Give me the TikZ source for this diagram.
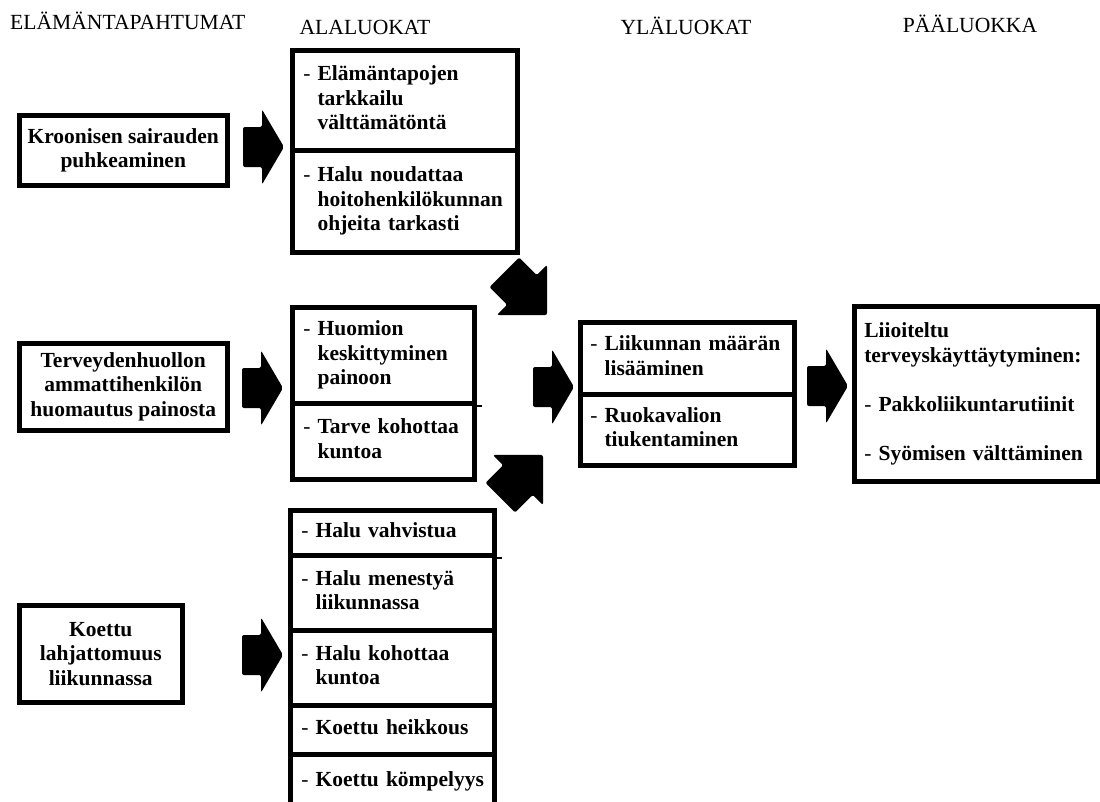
\documentclass[tikz,border=0pt]{standalone}
\usepackage{fontspec}
\setmainfont{Liberation Serif}
\usetikzlibrary{calc}
\newcommand{\lcfont}{\fontsize{21.5}{24.5}\selectfont}
\newcommand{\lcitem}[1]{\mbox{{\mdseries -}~\begin{tabular}[t]{@{}l@{}}#1\end{tabular}}}
\tikzset{
  lc head/.style={font=\fontsize{21.6}{25}\selectfont, inner sep=0pt},
  lc box/.style={draw=black, line width=4.5pt, anchor=north west, inner sep=0pt,
    align=center, font=\lcfont\bfseries},
  lc cell/.style={lc box, align=left, inner xsep=11pt},
  lc stub/.style={line width=2pt},
  pics/lc arrow/.style={code={
    \fill[black, rounded corners=2pt] (0,-20) -- (19,-20) -- (19,-37.5) -- (41,0)
      -- (19,37.5) -- (19,20) -- (0,20) -- cycle;}},
  pics/lc diag/.style={code={
    \fill[black, rounded corners=2pt] (0,-21) -- (25,-21) -- (25,-35.4) -- (60.4,0)
      -- (25,35.4) -- (25,21) -- (0,21) -- cycle;}}
}

\begin{document}
\begin{tikzpicture}[x=1pt, y=-1pt]
  \useasboundingbox (0,0) rectangle (1100,801);

  % column headings
  \node[lc head, anchor=base west] (hElam) at (10,29) {ELÄMÄNTAPAHTUMAT};
  \node[lc head, anchor=base] (hAla) at (365,34) {ALALUOKAT};
  \node[lc head, anchor=base] (hYla) at (686,34) {YLÄLUOKAT};
  \node[lc head, anchor=base] (hPaa) at (970,32) {PÄÄLUOKKA};

  % life events
  \node[lc box, minimum width=208pt, minimum height=70pt] (kroon) at (17,113)
    {Kroonisen sairauden\\puhkeaminen};
  \node[lc box, minimum width=208pt, minimum height=87pt] (terv) at (17,341)
    {Terveydenhuollon\\ammattihenkilön\\huomautus painosta};
  \node[lc box, minimum width=163pt, minimum height=97pt] (koet) at (17,603)
    {Koettu\\lahjattomuus\\liikunnassa};

  % subcategories
  \node[lc cell, text width=203pt, minimum height=100pt] (alaA) at (290,48)
    {\lcitem{Elämäntapojen\\tarkkailu\\välttämätöntä}};
  \node[lc cell, text width=203pt, minimum height=102pt] (alaB) at (290,148)
    {\lcitem{Halu noudattaa\\hoitohenkilökunnan\\ohjeita tarkasti}};

  \node[lc cell, text width=160pt, minimum height=96pt] (alaC) at (290,305)
    {\lcitem{Huomion\\keskittyminen\\painoon}};
  \node[lc cell, text width=160pt, minimum height=76pt] (alaD) at (290,401)
    {\lcitem{Tarve kohottaa\\kuntoa}};
  \draw[lc stub] (alaC.south east) -- ++(5,0);

  \node[lc cell, text width=182pt, minimum height=45pt] (alaE) at (288,508)
    {\lcitem{Halu vahvistua}};
  \node[lc cell, text width=182pt, minimum height=75pt] (alaF) at (288,553)
    {\lcitem{Halu menestyä\\liikunnassa}};
  \node[lc cell, text width=182pt, minimum height=75pt] (alaG) at (288,628)
    {\lcitem{Halu kohottaa\\kuntoa}};
  \node[lc cell, text width=182pt, minimum height=49pt] (alaH) at (288,703)
    {\lcitem{Koettu heikkous}};
  \node[lc cell, text width=182pt, minimum height=54pt] (alaI) at (288,752)
    {\lcitem{Koettu kömpelyys}};
  \draw[lc stub] (alaE.south east) -- ++(5,0);

  % upper categories
  \node[lc cell, inner xsep=10pt, text width=194pt, minimum height=72pt] (ylaA) at (578,320)
    {\lcitem{Liikunnan määrän\\lisääminen}};
  \node[lc cell, inner xsep=10pt, text width=194pt, minimum height=71pt] (ylaB) at (578,392)
    {\lcitem{Ruokavalion\\tiukentaminen}};

  % main category
  \node[lc cell, inner xsep=10pt, text width=224pt, minimum height=175pt] (paa) at (852,304)
    {Liioiteltu\\terveyskäyttäytyminen:\\[24.5pt]{\mdseries -} Pakkoliikuntarutiinit\\[24.5pt]{\mdseries -} Syömisen välttäminen};

  % block arrows
  \pic at (243,147) {lc arrow};
  \pic at (242,388) {lc arrow};
  \pic at (242,655) {lc arrow};
  \pic[rotate=-45] at (504.3,272.3) {lc diag};
  \pic at (533,387) {lc arrow};
  \pic[rotate=45] at (500.3,497.7) {lc diag};
  \pic at (807,386) {lc arrow};
\end{tikzpicture}
\end{document}
